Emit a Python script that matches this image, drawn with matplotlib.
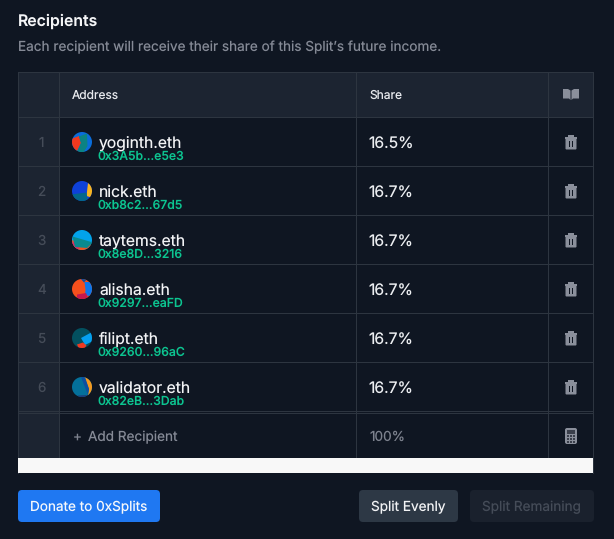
import matplotlib
matplotlib.use('Agg')
import matplotlib.pyplot as plt
from matplotlib.patches import Rectangle, FancyBboxPatch, Circle, Polygon

plt.rcParams['font.family'] = ['Inter', 'DejaVu Sans']
plt.rcParams['text.hinting'] = 'no_hinting'
plt.rcParams['text.hinting_factor'] = 1

names = ['yoginth.eth', 'nick.eth', 'taytems.eth', 'alisha.eth', 'filipt.eth', 'validator.eth']
addresses = ['0x3A5b...e5e3', '0xb8c2...67d5', '0x8e8D...3216', '0x9297...eaFD', '0x9260...96aC', '0x82eB...3Dab']
shares = ['16.5%', '16.7%', '16.7%', '16.7%', '16.7%', '16.7%']
total = '100%'

# avatar shapes, unit circle, y down
avatars = [
    ('#0a6ddb', [('#f0391f', [(-1.1, -0.3), (-0.3, -0.6), (-0.1, 0.1), (-0.6, 1.1), (-1.1, 1.1)]),
                 ('#0b8383', [(-0.3, -0.55), (0.5, -0.85), (0.55, 0.4), (0.05, 1.2), (-0.6, 1.2), (-0.1, 0.1)])]),
    ('#0e41d8', [('#f8b41f', [(0.6, -0.8), (1.1, -0.6), (1.1, 0.7), (0.45, 0.5)]),
                 ('#03678a', [(-1.1, 0.35), (0.45, 0.15), (0.6, 1.1), (-1.1, 1.1)])]),
    ('#02a3ea', [('#f0531f', [(-1.1, 0.0), (1.1, 0.5), (1.1, 1.1), (-1.1, 1.1)]),
                 ('#e0246a', [(-1.1, 0.1), (-0.4, 0.5), (-0.3, 1.1), (-1.1, 1.1)]),
                 ('#0a8a8f', [(-0.95, -0.35), (1.1, 0.25), (0.5, 0.8), (-0.7, 0.7)])]),
    ('#f5501d', [('#0d77ec', [(0.25, -0.7), (1.1, -0.7), (1.1, 0.8), (0.3, 0.6), (0.35, 0.1)]),
                 ('#c4184f', [(-0.5, 0.55), (0.4, 0.4), (0.7, 1.1), (-0.5, 1.1)]),
                 ('#0d4fa0', [(-0.2, -1.1), (0.6, -1.1), (0.2, -0.65)])]),
    ('#03505f', [('#05a0f0', [(-0.1, 0.0), (1.1, -0.65), (1.1, 0.3), (0.3, 0.7)]),
                 ('#ee3a22', [(-0.5, 0.65), (0.1, 0.45), (0.45, 0.75), (0.2, 1.1), (-0.3, 1.1)])]),
    ('#04709a', [('#f59a1f', [(0.2, -1.1), (1.1, -1.1), (1.1, 1.1), (0.6, 0.8), (0.7, 0.2)]),
                 ('#0d4fa0', [(-0.1, -1.0), (0.3, -1.0), (0.7, 0.2), (0.6, 0.8)]),
                 ('#1d3d7a', [(-0.4, 0.85), (0.5, 0.8), (0.4, 1.1), (-0.4, 1.1)])]),
]

BG = '#0f1622'
HEAD = '#1c2431'
LINE = '#2d3540'
ICON = '#8a8f9b'
GREEN = '#0cc490'
PX = 0.72  # px to pt at dpi 100

fig = plt.figure(figsize=(6.14, 5.39), dpi=100, facecolor=BG)
ax = fig.add_axes([0, 0, 1, 1])
ax.set_xlim(0, 614)
ax.set_ylim(539, 0)
ax.axis('off')


def txt(x, y, s, px, color, **kw):
    kw.setdefault('va', 'baseline')
    ax.text(x, y, s, fontsize=px * PX, color=color, **kw)


def rect(x0, y0, x1, y1, color, z=1):
    ax.add_patch(Rectangle((x0, y0), x1 - x0, y1 - y0, fc=color, ec='none', zorder=z))


def rbox(x0, y0, x1, y1, color, r=4):
    ax.add_patch(FancyBboxPatch((x0 + r, y0 + r), x1 - x0 - 2 * r, y1 - y0 - 2 * r,
                                boxstyle='round,pad=%d,rounding_size=%d' % (r, r), fc=color, ec='none', zorder=2))


def trash(cx, cy):
    rect(cx - 6.4, cy - 5.5, cx + 6.4, cy - 3.5, ICON, 3)
    rect(cx - 3, cy - 7.5, cx + 3, cy - 5, ICON, 3)
    rbox(cx - 5.5, cy - 4, cx + 5.5, cy + 7.5, ICON, 1)
    rect(cx - 2.2, cy - 1, cx - 0.7, cy + 5, BG, 4)
    rect(cx + 0.7, cy - 1, cx + 2.2, cy + 5, BG, 4)


def book(cx, cy):
    ax.add_patch(Polygon([(cx - 8, cy - 5.5), (cx - 3, cy - 5.5), (cx - 0.5, cy - 4), (cx - 0.5, cy + 5.5),
                          (cx - 2, cy + 4), (cx - 8, cy + 4)], fc=ICON, ec='none', zorder=3))
    ax.add_patch(Polygon([(cx + 8, cy - 5.5), (cx + 3, cy - 5.5), (cx + 0.5, cy - 4), (cx + 0.5, cy + 5.5),
                          (cx + 2, cy + 4), (cx + 8, cy + 4)], fc=ICON, ec='none', zorder=3))


def calc(cx, cy):
    rbox(cx - 6, cy - 8, cx + 6, cy + 8, ICON, 2)
    rect(cx - 4, cy - 6, cx + 4, cy - 2.5, '#3a3f4b', 4)
    for i in range(3):
        for j in range(3):
            rect(cx - 4 + i * 3, cy - 1 + j * 3, cx - 2 + i * 3, cy + 1 + j * 3, '#3a3f4b', 4)


def avatar(cx, cy, spec):
    base, pieces = spec
    r = 10
    clip = Circle((cx, cy), r, transform=ax.transData)
    ax.add_patch(Circle((cx, cy), r, fc=base, ec='none', zorder=3))
    for col, pts in pieces:
        p = Polygon([(cx + a * r, cy + b * r) for a, b in pts], fc=col, ec='none', zorder=4)
        ax.add_patch(p)
        p.set_clip_path(clip)


# heading
txt(17.5, 26, 'Recipients', 15.8, '#f4f5f7', weight='semibold')
txt(18, 51, 'Each recipient will receive their share of this Split\u2019s future income.', 13.6, '#858a96')

# table
left, right = 18, 593
col1, col2, col3 = 59, 356, 548
head_top, head_bot = 72, 117
row_h = 49
rows_bot = head_bot + row_h * len(names)
add_top = rows_bot + 2
add_bot = 458
band_bot = 472.5

rect(left, head_top, right, head_bot, HEAD)
rect(left, head_bot, col1, add_bot, HEAD)
rect(left, add_bot, right, band_bot, '#f8f8f8', 2)

for y in [head_bot + row_h * i for i in range(len(names) + 1)] + [add_top]:
    ax.plot([left, right], [y, y], color=LINE, lw=0.72, zorder=1.5, solid_capstyle='butt')
ax.plot([left, right], [head_top, head_top], color=LINE, lw=0.72, zorder=1.5)
for x in (left, right):
    ax.plot([x, x], [head_top, band_bot], color=LINE, lw=0.72, zorder=1.5)
for x in (col1, col2, col3):
    ax.plot([x, x], [head_top, add_bot], color=LINE, lw=0.72, zorder=1.5)

txt(71.5, 99.4, 'Address', 12, '#e8eaee')
txt(369, 99, 'Share', 12, '#e8eaee')
book(571, 94.5)

for i, (name, addr, share) in enumerate(zip(names, addresses, shares)):
    y = head_bot + row_h * i
    txt(41.5, y + 30, str(i + 1), 13.5, '#454c58', ha='center')
    avatar(82, y + 25, avatars[i])
    txt(99, y + 31, name, 15.7, '#f2f3f5')
    txt(97.5, y + 43, addr, 12.2, GREEN, weight='medium')
    txt(368.5, y + 31.4, share, 15.7, '#eceef1')
    trash(571, y + 25)

txt(73, 441, '+', 13.5, '#7d828e')
txt(87.5, 441, 'Add Recipient', 13.6, '#858a96')
txt(369, 441, total, 13.6, '#7d828e')
calc(571, 436)

# buttons
rbox(18, 490, 160, 522, '#1f78f2')
txt(88.5, 511, 'Donate to 0xSplits', 13.6, '#f6f8fb', ha='center')
rbox(359, 490, 458, 522, '#2d3845')
txt(408.5, 511, 'Split Evenly', 13.6, '#f2f3f5', ha='center')
rbox(470, 490, 594, 522, '#1a212d')
txt(531.5, 511, 'Split Remaining', 13.6, '#454c58', ha='center')

fig.savefig('out.png', dpi=100, facecolor=BG)
